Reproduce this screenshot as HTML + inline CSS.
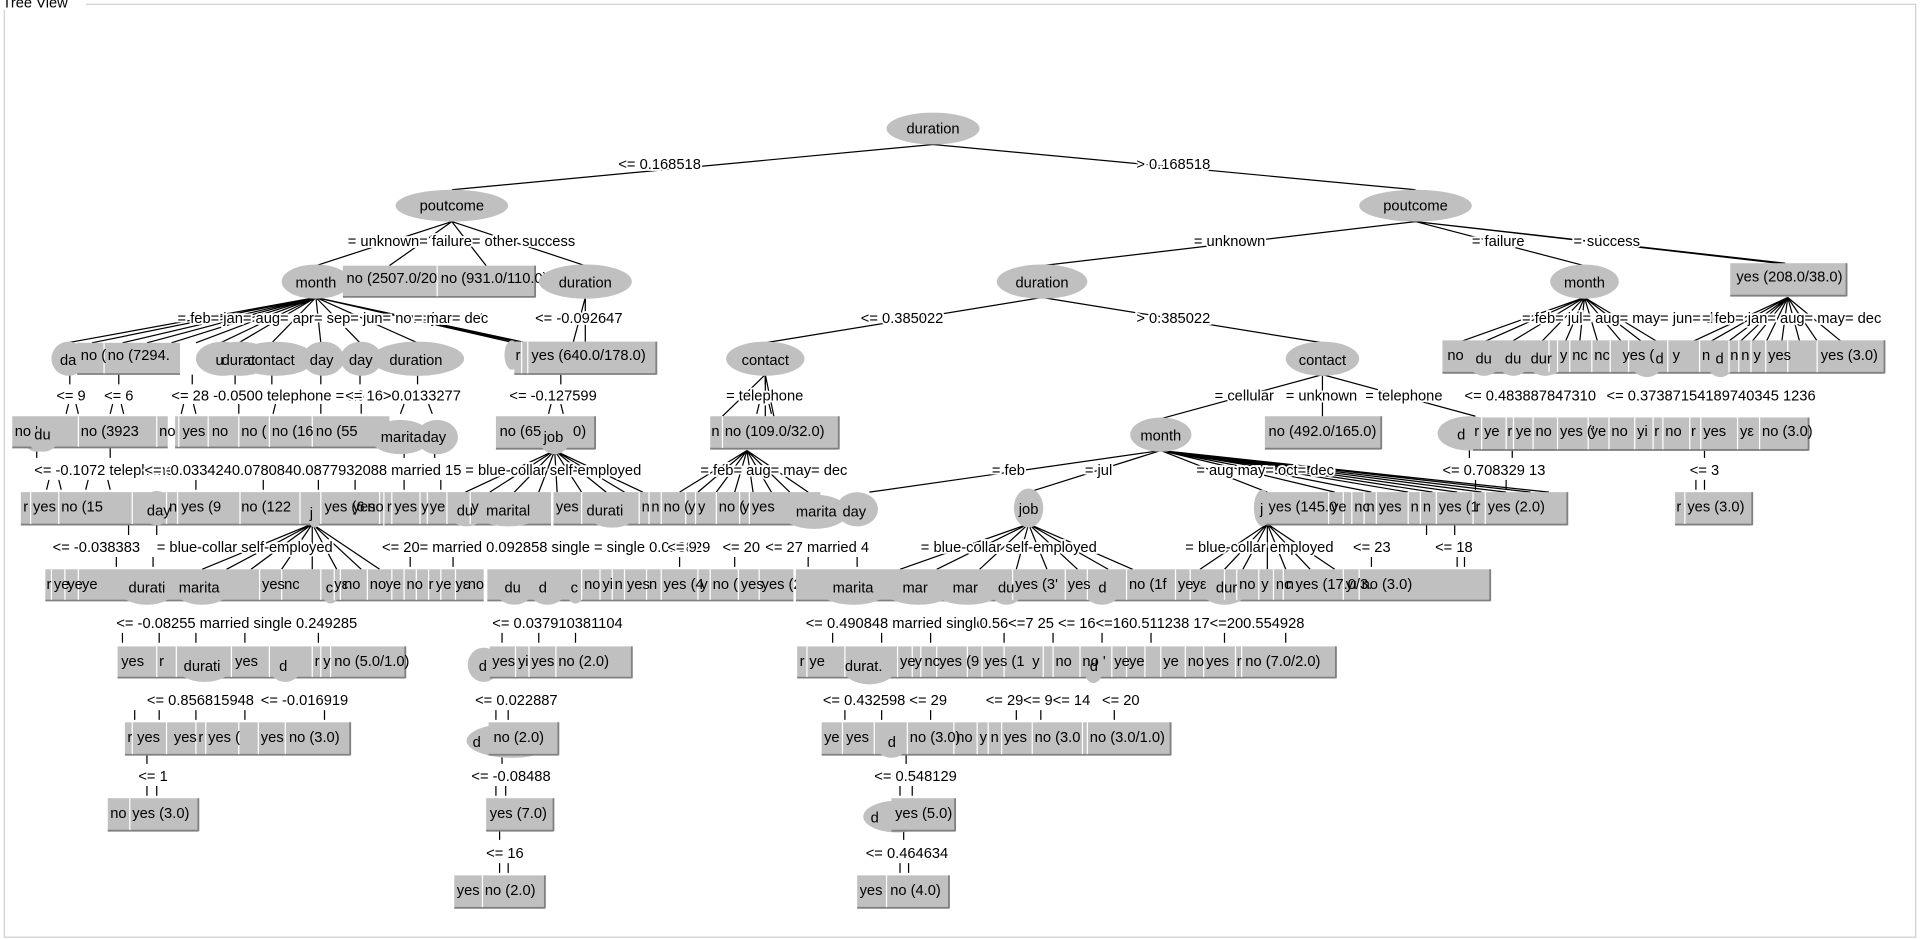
<!DOCTYPE html>
<html><head><meta charset="utf-8"><style>
html,body{margin:0;padding:0;background:#fff;overflow:hidden}
svg{display:block}
text{font-family:"Liberation Sans",sans-serif;font-size:12px;fill:#000}
.e{fill:#c0c0c0}
.b{fill:#c0c0c0}
.sh{stroke:#808080;stroke-width:1.5}
.sep{stroke:#fff;stroke-width:1}
.l{stroke:#000;stroke-width:1;fill:none}
.lb{paint-order:stroke;stroke:#fff;stroke-width:3px}
</style></head><body>
<svg width="1920" height="939" viewBox="0 0 1568 767" preserveAspectRatio="none" xmlns="http://www.w3.org/2000/svg">
<rect x="0" y="0" width="1568" height="767" fill="#fff"/>
<rect x="3.5" y="3.5" width="1561" height="762" fill="none" stroke="#d0d0d0"/>
<rect x="0" y="0" width="70" height="8" fill="#fff"/>
<text x="2" y="6">Tree View</text>

<!-- main edges -->
<g class="l">
<path d="M762 118 L369 155 M762 118 L1156 155"/>
<path d="M369 181 L258 217 M369 181 L318 217 M369 181 L397 217 M369 181 L478 217"/>
<path d="M1156 181 L851 217 M1156 181 L1294 217 M1156 181 L1458 215 M1156 181 L1455 215 M1156 181 L1452 215"/>
<path d="M258 243 L55 280 M258 243 L75 280 M258 243 L100 280 M258 243 L120 280 M258 243 L140 280 M258 243 L160 280 M258 243 L180 280 M258 243 L195 280 M258 243 L222 280 M258 243 L262 280 M258 243 L294 280 M258 243 L341 280 M258 243 L420 280 M258 243 L425 280 M258 243 L430 280"/>
<path d="M478 243 L478 280 M478 243 L468 280"/>
<path d="M851 243 L625 280 M851 243 L1080 280"/>
<path d="M625 306 L590 340 M625 306 L625 340 M625 306 L632 340"/>
<path d="M1080 306 L948 342 M1080 306 L1080 340 M1080 306 L1205 340"/>
<path d="M948 368 L710 402 M948 368 L840 402 M948 368 L1035 402 M948 368 L1090 402 M948 368 L1120 402 M948 368 L1150 402 M948 368 L1170 402 M948 368 L1190 402 M948 368 L1210 402 M948 368 L1230 402 M948 368 L1250 402 M948 368 L1265 402"/>
<path d="M1294 243 L1190 280 M1294 243 L1210 280 M1294 243 L1233 280 M1294 243 L1258 280 M1294 243 L1278 280 M1294 243 L1290 280 M1294 243 L1305 280 M1294 243 L1325 280 M1294 243 L1342 280 M1294 243 L1355 280"/>
<path d="M1460 243 L1380 280 M1460 243 L1395 280 M1460 243 L1410 280 M1460 243 L1420 280 M1460 243 L1430 280 M1460 243 L1442 280 M1460 243 L1455 280 M1460 243 L1470 280 M1460 243 L1485 280 M1460 243 L1505 280"/>
<!-- fans into lower rows -->
<path d="M453 368 L380 402 M453 368 L400 402 M453 368 L420 402 M453 368 L440 402 M453 368 L455 402 M453 368 L475 402 M453 368 L495 402 M453 368 L510 402 M453 368 L525 402"/>
<path d="M610 368 L555 402 M610 368 L570 402 M610 368 L585 402 M610 368 L600 402 M610 368 L615 402 M610 368 L630 402 M610 368 L645 402 M610 368 L660 402"/>
<path d="M255 428 L165 465 M255 428 L185 465 M255 428 L205 465 M255 428 L230 465 M255 428 L255 465 M255 428 L275 465 M255 428 L295 465 M255 428 L310 465"/>
<path d="M840 428 L735 465 M840 428 L765 465 M840 428 L800 465 M840 428 L830 465 M840 428 L855 465 M840 428 L880 465 M840 428 L905 465 M840 428 L925 465"/>
<path d="M1035 428 L980 465 M1035 428 L1000 465 M1035 428 L1015 465 M1035 428 L1035 465 M1035 428 L1050 465 M1035 428 L1070 465 M1035 428 L1090 465"/>
</g>
<!-- short ticks under label rows -->
<g class="l">
<path d="M56 330 l-2 8 M62 330 l2 8 M92 330 l-2 8 M99 330 l2 8 M150 330 l-2 8 M158 330 l2 8 M195 330 l0 8 M225 330 l-2 8 M262 330 l0 8 M295 330 l0 8 M330 330 l-3 8 M350 330 l3 8 M450 330 l-2 8 M458 330 l2 8 M620 330 l-2 8 M628 330 l2 8"/>
<path d="M40 392 l-2 8 M48 392 l2 8 M72 392 l-2 8 M88 392 l2 8 M160 392 l0 8 M215 392 l0 8 M260 392 l0 8 M290 392 l0 8 M330 392 l0 8 M360 392 l0 8 M1205 392 l0 8 M1230 392 l0 8 M1385 392 l0 8 M1392 392 l0 8"/>
<path d="M95 455 l0 8 M125 455 l0 8 M335 455 l0 8 M370 455 l0 8 M555 455 l0 8 M600 455 l0 8 M660 455 l0 8 M700 455 l0 8 M1120 455 l0 8 M1190 455 l0 8 M1196 455 l0 8"/>
<path d="M100 517 l0 8 M130 517 l0 8 M160 517 l0 8 M200 517 l0 8 M260 517 l0 8 M410 517 l0 8 M440 517 l0 8 M470 517 l0 8 M680 517 l0 8 M720 517 l0 8 M760 517 l0 8 M820 517 l0 8 M860 517 l0 8 M900 517 l0 8 M940 517 l0 8 M1000 517 l0 8 M1050 517 l0 8"/>
<path d="M110 580 l0 8 M130 580 l0 8 M160 580 l0 8 M200 580 l0 8 M265 580 l0 8 M405 580 l0 8 M415 580 l0 8 M690 580 l0 8 M720 580 l0 8 M760 580 l0 8 M830 580 l0 8 M850 580 l0 8 M910 580 l0 8"/>
<path d="M120 642 l0 8 M128 642 l0 8 M405 642 l0 8 M413 642 l0 8 M735 642 l0 8 M745 642 l0 8"/>
<path d="M408 705 l0 8 M415 705 l0 8 M735 705 l0 8 M742 705 l0 8"/>
<path d="M57 306 l0 8 M97 306 l0 8 M157 306 l0 8 M192 306 l0 8 M222 306 l0 8 M262 306 l0 8 M294 306 l0 8 M341 306 l0 8 M458 306 l0 8 M625 306 l0 8"/>
<path d="M30 366 l0 8 M90 366 l0 8 M330 366 l0 8 M355 366 l0 8 M1200 366 l0 8 M1235 366 l0 8 M1392 366 l0 8"/>
<path d="M105 429 l0 8 M128 429 l0 8 M1165 429 l0 8 M1188 429 l0 8"/>
<path d="M120 616 l0 8 M410 616 l0 8 M740 616 l0 8 M408 678 l0 8 M738 678 l0 8"/>
</g>

<!-- ===== Level 0-2 nodes ===== -->
<ellipse class="e" cx="762" cy="105" rx="38" ry="13"/><text x="762" y="109" text-anchor="middle">duration</text>
<ellipse class="e" cx="369" cy="168" rx="46" ry="13"/><text x="369" y="172" text-anchor="middle">poutcome</text>
<ellipse class="e" cx="1156" cy="168" rx="46" ry="13"/><text x="1156" y="172" text-anchor="middle">poutcome</text>

<ellipse class="e" cx="258" cy="230" rx="28" ry="14"/><text x="258" y="235" text-anchor="middle">month</text>
<rect class="b" x="280" y="217" width="157" height="25"/><path class="sh" d="M280 242.5 H437 M437 217 V243"/><path class="sep" d="M357 217 V242"/>
<text x="283" y="231">no (2507.0/20</text><text x="360" y="231">no (931.0/110.0)</text>
<ellipse class="e" cx="478" cy="230" rx="38" ry="14"/><text x="478" y="235" text-anchor="middle">duration</text>

<ellipse class="e" cx="851" cy="230" rx="37" ry="14"/><text x="851" y="235" text-anchor="middle">duration</text>
<ellipse class="e" cx="1294" cy="230" rx="28" ry="14"/><text x="1294" y="235" text-anchor="middle">month</text>
<rect class="b" x="1413" y="215" width="95" height="26"/><path class="sh" d="M1413 241.5 H1508 M1508 215 V242"/>
<text x="1418" y="230">yes (208.0/38.0)</text>

<!-- Row A -->
<ellipse class="e" cx="56" cy="293" rx="14" ry="14"/>
<ellipse class="e" cx="182" cy="293" rx="22" ry="14"/>
<ellipse class="e" cx="196" cy="293" rx="26" ry="14"/>
<ellipse class="e" cx="225" cy="293" rx="32" ry="14"/>
<ellipse class="e" cx="264" cy="293" rx="17" ry="14"/>
<ellipse class="e" cx="295" cy="293" rx="17" ry="14"/>
<ellipse class="e" cx="341" cy="293" rx="38" ry="14"/>
<rect class="b" x="63" y="280" width="84" height="25"/><path class="sh" d="M63 305.5 H147"/><path class="sep" d="M85 280 V305"/>
<text x="49" y="298">da</text><text x="66" y="294">no (</text><text x="88" y="294">no (7294.</text>
<text x="176" y="298">u</text><text x="181" y="298">durat</text><text x="202" y="298">contact</text><text x="253" y="298">day</text><text x="285" y="298">day</text><text x="318" y="298">duration</text>
<ellipse class="e" cx="418" cy="290" rx="6" ry="12"/>
<rect class="b" x="420" y="279" width="116" height="26"/><path class="sh" d="M420 305.5 H536 M536 279 V306"/><path class="sep" d="M426 279 V305 M431 279 V305"/>
<text x="421" y="294" font-size="10">r</text><text x="434" y="294">yes (640.0/178.0)</text>
<ellipse class="e" cx="625" cy="293" rx="32" ry="14"/><text x="625" y="298" text-anchor="middle">contact</text>
<ellipse class="e" cx="1080" cy="293" rx="30" ry="14"/><text x="1080" y="298" text-anchor="middle">contact</text>

<rect class="b" x="1178" y="278" width="361" height="26"/><path class="sh" d="M1178 304.5 H1539 M1539 278 V305"/>
<ellipse class="e" cx="1212" cy="293" rx="14" ry="14"/><ellipse class="e" cx="1236" cy="293" rx="14" ry="14"/><ellipse class="e" cx="1262" cy="293" rx="16" ry="14"/>
<ellipse class="e" cx="1345" cy="294" rx="14" ry="14"/><ellipse class="e" cx="1405" cy="294" rx="12" ry="14"/>
<path class="sep" d="M1265 278 V304 M1272 278 V304 M1282 278 V304 M1300 278 V304 M1315 278 V304 M1330 278 V304 M1362 278 V304 M1388 278 V304 M1412 278 V304 M1420 278 V304 M1430 278 V304 M1442 278 V304 M1460 278 V304 M1484 278 V304"/>
<text x="1182" y="294">no</text><text x="1205" y="297">du</text><text x="1229" y="297">du</text><text x="1250" y="297">dur</text><text x="1274" y="294">y</text><text x="1284" y="294">nc</text><text x="1302" y="294">nc</text><text x="1325" y="294">yes (</text><text x="1352" y="297">d</text><text x="1366" y="294">y</text><text x="1390" y="294">n</text><text x="1401" y="297">d</text><text x="1413" y="294">n</text><text x="1422" y="294">n</text><text x="1432" y="294">y</text><text x="1444" y="294">yes</text><text x="1487" y="294">yes (3.0)</text>

<!-- Row B -->
<ellipse class="e" cx="30" cy="355" rx="12" ry="14"/>
<rect class="b" x="10" y="340" width="127" height="25"/><path class="sh" d="M10 365.5 H137"/><path class="sep" d="M64 340 V365 M128 340 V365"/>
<ellipse class="e" cx="35" cy="355" rx="14" ry="14"/>
<text x="12" y="356">no '</text><text x="28" y="359">du</text><text x="66" y="356">no (3923</text><text x="130" y="356">no '</text>
<rect class="b" x="143" y="340" width="175" height="25"/><path class="sh" d="M143 365.5 H318"/><path class="sep" d="M146 340 V365 M170 340 V365 M195 340 V365 M220 340 V365 M255 340 V365"/>
<text x="149" y="356">yes</text><text x="173" y="356">no</text><text x="197" y="356">no (</text><text x="222" y="356">no (16</text><text x="258" y="356">no (55</text>
<ellipse class="e" cx="327" cy="357" rx="25" ry="14"/><ellipse class="e" cx="357" cy="357" rx="17" ry="14"/>
<text x="311" y="361">marita</text><text x="345" y="361">day</text>
<rect class="b" x="405" y="340" width="81" height="26"/><path class="sh" d="M405 366.5 H486 M486 340 V367"/>
<ellipse class="e" cx="453" cy="357" rx="13" ry="14"/>
<text x="408" y="356">no (65</text><text x="444" y="361">job</text><text x="468" y="356">0)</text>
<rect class="b" x="580" y="340" width="105" height="26"/><path class="sh" d="M580 366.5 H685 M685 340 V367"/><path class="sep" d="M590 340 V366"/>
<text x="581" y="356">n</text><text x="592" y="356">no (109.0/32.0)</text>
<ellipse class="e" cx="948" cy="355" rx="25" ry="14"/><text x="948" y="360" text-anchor="middle">month</text>
<rect class="b" x="1033" y="340" width="95" height="26"/><path class="sh" d="M1033 366.5 H1128 M1128 340 V367"/>
<text x="1036" y="356">no (492.0/165.0)</text>
<ellipse class="e" cx="1200" cy="354" rx="26" ry="14"/>
<rect class="b" x="1203" y="341" width="274" height="26"/><path class="sh" d="M1203 367.5 H1477 M1477 341 V368"/>
<path class="sep" d="M1210 341 V367 M1230 341 V367 M1236 341 V367 M1252 341 V367 M1272 341 V367 M1297 341 V367 M1314 341 V367 M1335 341 V367 M1350 341 V367 M1358 341 V367 M1380 341 V367 M1389 341 V367 M1419 341 V367 M1437 341 V367"/>
<text x="1190" y="359">d</text><text x="1204" y="356">r</text><text x="1212" y="356">ye</text><text x="1231" y="356">r</text><text x="1238" y="356">ye</text><text x="1254" y="356">no</text><text x="1274" y="356">yes ('</text><text x="1299" y="356">ye</text><text x="1316" y="356">no</text><text x="1337" y="356">yi</text><text x="1351" y="356">r</text><text x="1360" y="356">no</text><text x="1381" y="356">r</text><text x="1391" y="356">yes</text><text x="1421" y="356">yε</text><text x="1439" y="356">no (3.0)</text>

<!-- Row C -->
<rect class="b" x="17" y="402" width="296" height="26"/><path class="sh" d="M17 428.5 H313"/>
<ellipse class="e" cx="128" cy="415" rx="12" ry="14"/><ellipse class="e" cx="257" cy="418" rx="6" ry="13"/>
<path class="sep" d="M25 402 V428 M48 402 V428 M108 402 V428 M136 402 V428 M145 402 V428 M196 402 V428 M245 402 V428 M262 402 V428 M310 402 V428"/>
<text x="19" y="418">r</text><text x="27" y="418">yes</text><text x="50" y="418">no (15</text><text x="120" y="421">day</text><text x="138" y="418">n</text><text x="148" y="418">yes (9</text><text x="197" y="418">no (122</text><text x="253" y="423">j</text><text x="265" y="418">yes (6</text><text x="288" y="418">yes</text>
<rect class="b" x="314" y="402" width="136" height="26"/><path class="sh" d="M314 428.5 H450"/>
<ellipse class="e" cx="381" cy="416" rx="16" ry="14"/><ellipse class="e" cx="415" cy="416" rx="30" ry="14"/>
<path class="sep" d="M320 402 V428 M343 402 V428 M349 402 V428 M365 402 V428 M384 402 V428"/>
<text x="300" y="418">no</text><text x="316" y="418">r</text><text x="322" y="418">yes</text><text x="344" y="418">y</text><text x="351" y="418">ye</text><text x="373" y="421">du</text><text x="385" y="418">y</text><text x="397" y="421">marital</text>
<rect class="b" x="452" y="402" width="218" height="26"/><path class="sh" d="M452 428.5 H670"/>
<ellipse class="e" cx="500" cy="417" rx="22" ry="14"/>
<path class="sep" d="M475 402 V428 M522 402 V428 M530 402 V428 M540 402 V428 M560 402 V428 M568 402 V428 M585 402 V428 M604 402 V428 M612 402 V428"/>
<text x="454" y="418">yes</text><text x="479" y="421">durati</text><text x="524" y="418">n</text><text x="532" y="418">n</text><text x="542" y="418">no (</text><text x="562" y="418">y</text><text x="570" y="418">y</text><text x="587" y="418">no (</text><text x="606" y="418">y</text><text x="614" y="418">yes</text>
<ellipse class="e" cx="665" cy="418" rx="28" ry="14"/><ellipse class="e" cx="700" cy="416" rx="17" ry="14"/>
<text x="650" y="422">marita</text><text x="688" y="422">day</text>
<ellipse class="e" cx="840" cy="415" rx="12" ry="16"/><text x="840" y="420" text-anchor="middle">job</text>
<ellipse class="e" cx="1031" cy="415" rx="7" ry="15"/>
<rect class="b" x="1034" y="402" width="246" height="26"/><path class="sh" d="M1034 428.5 H1280 M1280 402 V429"/>
<path class="sep" d="M1085 402 V428 M1097 402 V428 M1104 402 V428 M1114 402 V428 M1124 402 V428 M1150 402 V428 M1160 402 V428 M1173 402 V428 M1203 402 V428 M1213 402 V428"/>
<text x="1029" y="420">j</text><text x="1036" y="418">yes (145.0</text><text x="1087" y="418">ye</text><text x="1106" y="418">nc</text><text x="1116" y="418">n</text><text x="1126" y="418">yes</text><text x="1152" y="418">n</text><text x="1162" y="418">n</text><text x="1175" y="418">yes (1</text><text x="1205" y="418">r</text><text x="1215" y="418">yes (2.0)</text>
<rect class="b" x="1368" y="402" width="63" height="26"/><path class="sh" d="M1368 428.5 H1431 M1431 402 V429"/><path class="sep" d="M1376 402 V428"/>
<text x="1369" y="418">r</text><text x="1378" y="418">yes (3.0)</text>

<!-- Row D -->
<rect class="b" x="37" y="465" width="358" height="25"/><path class="sh" d="M37 490.5 H395"/>
<ellipse class="e" cx="120" cy="480" rx="24" ry="14"/><ellipse class="e" cx="165" cy="480" rx="24" ry="14"/><ellipse class="e" cx="270" cy="480" rx="8" ry="13"/>
<path class="sep" d="M42 465 V490 M53 465 V490 M64 465 V490 M212 465 V490 M230 465 V490 M262 465 V490 M273 465 V490 M278 465 V490 M300 465 V490 M320 465 V490 M330 465 V490 M340 465 V490 M350 465 V490 M360 465 V490 M372 465 V490"/>
<text x="38" y="481">r</text><text x="44" y="481">ye</text><text x="55" y="481">ye</text><text x="67" y="481">ye</text><text x="105" y="484">durati</text><text x="146" y="484">marita</text><text x="214" y="481">yes</text><text x="232" y="481">nc</text><text x="266" y="484">c</text><text x="273" y="481">yε</text><text x="281" y="481">no</text><text x="302" y="481">no</text><text x="315" y="481">ye</text><text x="332" y="481">no</text><text x="350" y="481">r</text><text x="356" y="481">ye</text><text x="372" y="481">yε</text><text x="382" y="481">no</text>
<rect class="b" x="398" y="465" width="250" height="25"/><path class="sh" d="M398 490.5 H648"/>
<ellipse class="e" cx="420" cy="480" rx="16" ry="14"/><ellipse class="e" cx="447" cy="480" rx="16" ry="14"/><ellipse class="e" cx="470" cy="480" rx="8" ry="13"/>
<path class="sep" d="M475 465 V490 M490 465 V490 M500 465 V490 M510 465 V490 M528 465 V490 M540 465 V490 M570 465 V490 M580 465 V490 M603 465 V490 M620 465 V490"/>
<text x="412" y="484">du</text><text x="440" y="484">d</text><text x="466" y="484">c</text><text x="477" y="481">no</text><text x="492" y="481">yi</text><text x="502" y="481">n</text><text x="512" y="481">yes</text><text x="530" y="481">n</text><text x="542" y="481">yes (4</text><text x="572" y="481">y</text><text x="582" y="481">no (</text><text x="605" y="481">yes</text><text x="622" y="481">yes (2</text>
<rect class="b" x="650" y="465" width="567" height="25"/><path class="sh" d="M650 490.5 H1217 M1217 465 V491"/>
<ellipse class="e" cx="697" cy="480" rx="30" ry="14"/><ellipse class="e" cx="750" cy="480" rx="30" ry="14"/><ellipse class="e" cx="790" cy="480" rx="30" ry="14"/><ellipse class="e" cx="822" cy="480" rx="14" ry="14"/><ellipse class="e" cx="900" cy="480" rx="16" ry="14"/><ellipse class="e" cx="1000" cy="480" rx="20" ry="14"/>
<path class="sep" d="M827 465 V490 M870 465 V490 M888 465 V490 M920 465 V490 M960 465 V490 M972 465 V490 M1000 465 V490 M1010 465 V490 M1028 465 V490 M1040 465 V490 M1048 465 V490 M1097 465 V490 M1110 465 V490"/>
<text x="680" y="484">marita</text><text x="737" y="484">mar</text><text x="778" y="484">mar</text><text x="815" y="484">du</text><text x="829" y="481">yes (3'</text><text x="872" y="481">yes</text><text x="897" y="484">d</text><text x="922" y="481">no (1f</text><text x="962" y="481">ye</text><text x="974" y="481">yε</text><text x="993" y="484">dur</text><text x="1012" y="481">no</text><text x="1030" y="481">y</text><text x="1042" y="481">nc</text><text x="1050" y="481">n</text><text x="1058" y="481">yes (17.0/3.</text><text x="1099" y="481">yı</text><text x="1112" y="481">no (3.0)</text>

<!-- Row E -->
<rect class="b" x="96" y="528" width="235" height="25"/><path class="sh" d="M96 553.5 H331 M331 528 V554"/>
<ellipse class="e" cx="167" cy="543" rx="24" ry="14"/><ellipse class="e" cx="233" cy="543" rx="14" ry="14"/>
<path class="sep" d="M128 528 V553 M144 528 V553 M189 528 V553 M220 528 V553 M255 528 V553 M262 528 V553 M270 528 V553"/>
<text x="99" y="544">yes</text><text x="130" y="544">r</text><text x="150" y="548">durati</text><text x="192" y="544">yes</text><text x="228" y="548">d</text><text x="257" y="544">r</text><text x="264" y="544">y</text><text x="273" y="544">no (5.0/1.0)</text>
<ellipse class="e" cx="395" cy="543" rx="13" ry="14"/>
<rect class="b" x="400" y="528" width="116" height="25"/><path class="sh" d="M400 553.5 H516 M516 528 V554"/>
<path class="sep" d="M421 528 V553 M432 528 V553 M454 528 V553"/>
<text x="391" y="548">d</text><text x="402" y="544">yes</text><text x="423" y="544">yi</text><text x="434" y="544">yes</text><text x="456" y="544">no (2.0)</text>
<rect class="b" x="651" y="528" width="440" height="25"/><path class="sh" d="M651 553.5 H1091 M1091 528 V554"/>
<ellipse class="e" cx="710" cy="545" rx="22" ry="14"/><ellipse class="e" cx="893" cy="545" rx="8" ry="13"/>
<path class="sep" d="M659 528 V553 M690 528 V553 M733 528 V553 M745 528 V553 M752 528 V553 M765 528 V553 M790 528 V553 M802 528 V553 M820 528 V553 M852 528 V553 M860 528 V553 M882 528 V553 M908 528 V553 M920 528 V553 M935 528 V553 M948 528 V553 M968 528 V553 M983 528 V553 M1009 528 V553 M1014 528 V553"/>
<text x="653" y="544">r</text><text x="661" y="544">ye</text><text x="690" y="548">durat.</text><text x="735" y="544">ye</text><text x="747" y="544">y</text><text x="755" y="544">nc</text><text x="767" y="544">yes (9</text><text x="804" y="544">yes (1</text><text x="843" y="544">y</text><text x="862" y="544">no</text><text x="884" y="544">no '</text><text x="890" y="548">d</text><text x="910" y="544">ye</text><text x="922" y="544">ye</text><text x="950" y="544">ye</text><text x="970" y="544">no</text><text x="985" y="544">yes</text><text x="1010" y="544">r</text><text x="1017" y="544">no (7.0/2.0)</text>

<!-- Row F -->
<rect class="b" x="102" y="590" width="184" height="26"/><path class="sh" d="M102 616.5 H286 M286 590 V617"/>
<path class="sep" d="M108 590 V616 M136 590 V616 M160 590 V616 M168 590 V616 M195 590 V616 M211 590 V616 M233 590 V616"/>
<text x="104" y="606">r</text><text x="112" y="606">yes</text><text x="142" y="606">yes</text><text x="162" y="606">r</text><text x="170" y="606">yes (</text><text x="213" y="606">yes</text><text x="236" y="606">no (3.0)</text>
<ellipse class="e" cx="418" cy="605" rx="37" ry="14"/>
<rect class="b" x="399" y="590" width="57" height="26"/><path class="sh" d="M399 616.5 H456 M456 590 V617"/>
<text x="386" y="610">d</text><text x="403" y="606">no (2.0)</text>
<rect class="b" x="671" y="590" width="285" height="26"/><path class="sh" d="M671 616.5 H956 M956 590 V617"/>
<ellipse class="e" cx="728" cy="606" rx="14" ry="13"/>
<path class="sep" d="M688 590 V616 M714 590 V616 M741 590 V616 M779 590 V616 M798 590 V616 M807 590 V616 M818 590 V616 M843 590 V616 M884 590 V616 M888 590 V616"/>
<text x="673" y="606">ye</text><text x="691" y="606">yes</text><text x="725" y="610">d</text><text x="743" y="606">no (3.0)</text><text x="781" y="606">no</text><text x="800" y="606">y</text><text x="809" y="606">n</text><text x="820" y="606">yes</text><text x="845" y="606">no (3.0</text><text x="890" y="606">no (3.0/1.0)</text>

<!-- Row G -->
<rect class="b" x="88" y="652" width="74" height="26"/><path class="sh" d="M88 678.5 H162 M162 652 V679"/><path class="sep" d="M106 652 V678"/>
<text x="90" y="668">no</text><text x="108" y="668">yes (3.0)</text>
<rect class="b" x="397" y="652" width="55" height="26"/><path class="sh" d="M397 678.5 H452 M452 652 V679"/>
<text x="400" y="668">yes (7.0)</text>
<ellipse class="e" cx="733" cy="667" rx="28" ry="13"/>
<rect class="b" x="728" y="652" width="52" height="26"/><path class="sh" d="M728 678.5 H780 M780 652 V679"/>
<text x="711" y="672">d</text><text x="731" y="668">yes (5.0)</text>

<!-- Row H -->
<rect class="b" x="371" y="715" width="74" height="26"/><path class="sh" d="M371 741.5 H445 M445 715 V742"/><path class="sep" d="M394 715 V741"/>
<text x="373" y="731">yes</text><text x="396" y="731">no (2.0)</text>
<rect class="b" x="700" y="715" width="75" height="26"/><path class="sh" d="M700 741.5 H775 M775 715 V742"/><path class="sep" d="M724 715 V741"/>
<text x="702" y="731">yes</text><text x="727" y="731">no (4.0)</text>

<!-- ===== edge labels ===== -->
<g class="lb">
<text x="505" y="138">&lt;= 0.168518</text>
<text x="928" y="138">&gt; 0.168518</text>
<text x="284" y="201">= unknown= failure= other success</text>
<text x="975" y="201">= unknown</text>
<text x="1202" y="201">= failure</text>
<text x="1285" y="201">= other</text>
<text x="1296" y="201">success</text>
<text x="145" y="264">= feb= jan= aug= apr= sep= jun= nov= jan= oct</text>
<text x="338" y="264">= mar= dec</text>
<text x="437" y="264">&lt;= -0.092647</text>
<text x="703" y="264">&lt;= 0.385022</text>
<text x="928" y="264">&gt; 0.385022</text>
<text x="1243" y="264">= feb= jul= aug= may= jun= dec</text>
<text x="1390" y="264">= feb= jan= aug= may= dec</text>
<text x="46" y="327">&lt;= 9</text><text x="85" y="327">&lt;= 6</text>
<text x="140" y="327">&lt;= 28 -0.0500 telephone = 16</text>
<text x="282" y="327">&lt;= 16&gt;0.0133277</text>
<text x="416" y="327">&lt;= -0.127599</text>
<text x="593" y="327">= telephone</text>
<text x="992" y="327">= cellular</text>
<text x="1050" y="327">= unknown</text>
<text x="1115" y="327">= telephone</text>
<text x="1196" y="327">&lt;= 0.483887847310</text>
<text x="1312" y="327">&lt;= 0.37387154189740345 1236</text>
<text x="28" y="388">&lt;= -0.1072 telephone</text>
<text x="118" y="388">&lt;= -0.0334240.0780840.0877932088 married 15</text>
<text x="380" y="388">= blue-collar self-employed</text>
<text x="572" y="388">= feb= aug= may= dec</text>
<text x="810" y="388">= feb</text>
<text x="886" y="388">= jul</text>
<text x="977" y="388">= aug may= oct= dec</text>
<text x="1178" y="388">&lt;= 0.708329 13</text>
<text x="1380" y="388">&lt;= 3</text>
<text x="43" y="451">&lt;= -0.038383</text>
<text x="128" y="451">= blue-collar self-employed</text>
<text x="312" y="451">&lt;= 20= married 0.092858 single = single 0.018829</text>
<text x="545" y="451">&lt;= 9</text><text x="590" y="451">&lt;= 20</text>
<text x="625" y="451">&lt;= 27 married 4</text>
<text x="752" y="451">= blue-collar self-employed</text>
<text x="968" y="451">= blue-collar employed</text>
<text x="1105" y="451">&lt;= 23</text><text x="1172" y="451">&lt;= 18</text>
<text x="95" y="513">&lt;= -0.08255 married single 0.249285</text>
<text x="402" y="513">&lt;= 0.037910381104</text>
<text x="658" y="513">&lt;= 0.490848 married single</text>
<text x="800" y="513">0.56&lt;=7 25 &lt;= 16&lt;=160.511238 17&lt;=200.554928</text>
<text x="120" y="576">&lt;= 0.856815948</text><text x="213" y="576">&lt;= -0.016919</text>
<text x="388" y="576">&lt;= 0.022887</text>
<text x="672" y="576">&lt;= 0.432598 &lt;= 29</text>
<text x="805" y="576">&lt;= 29&lt;= 9&lt;= 14</text>
<text x="900" y="576">&lt;= 20</text>
<text x="113" y="638">&lt;= 1</text>
<text x="385" y="638">&lt;= -0.08488</text>
<text x="714" y="638">&lt;= 0.548129</text>
<text x="397" y="701">&lt;= 16</text>
<text x="707" y="701">&lt;= 0.464634</text>
</g>
</svg>
</body></html>
